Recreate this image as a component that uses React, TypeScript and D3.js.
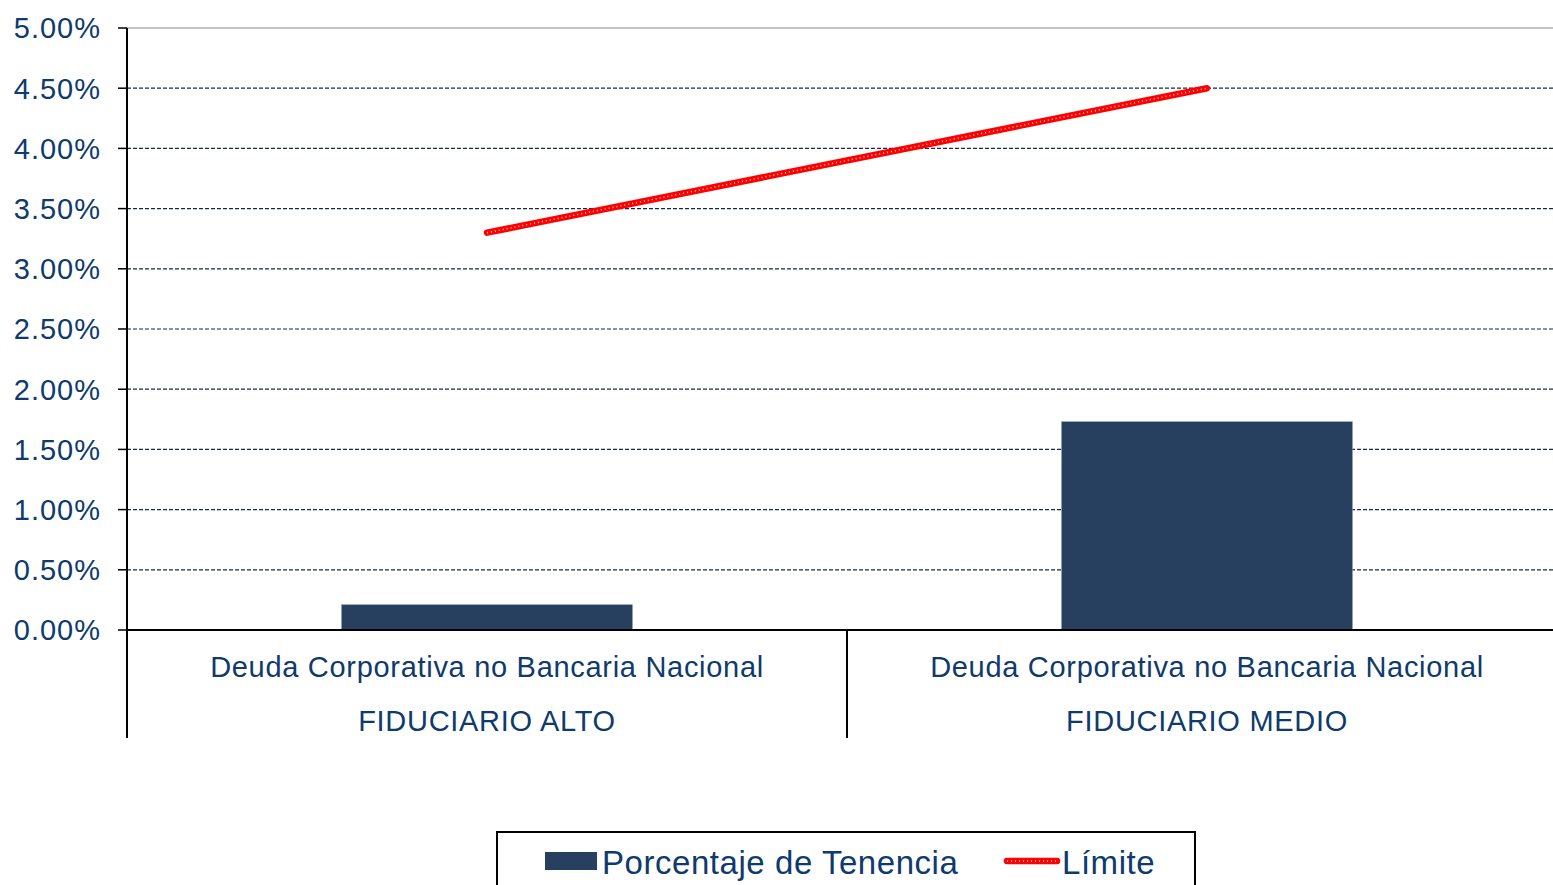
import React from "react";
import * as d3 from "d3";

const categories = ["FIDUCIARIO ALTO", "FIDUCIARIO MEDIO"];
const subLabel = "Deuda Corporativa no Bancaria Nacional";
const tenencia = [0.0021, 0.0173];
const limite = [0.033, 0.045];
const yTicks = [0, 0.005, 0.01, 0.015, 0.02, 0.025, 0.03, 0.035, 0.04, 0.045, 0.05];
const seriesNames = ["Porcentaje de Tenencia", "Límite"];

const W = 1553;
const H = 885;
const left = 127;
const right = 1567;
const top = 28;
const bottom = 630;
const navy = "#0e3a6c";
const barColor = "#27405f";
const font = "'Liberation Sans', Arial, sans-serif";

export default function App() {
  const x = d3.scaleBand<string>().domain(categories).range([left, right]).paddingInner(0).paddingOuter(0);
  const y = d3.scaleLinear().domain([0, 0.05]).range([bottom, top]);
  const barW = x.bandwidth() * 0.404;
  const fmt = d3.format(".2%");
  const line = d3
    .line<number>()
    .x((_, i) => (x(categories[i]) as number) + x.bandwidth() / 2)
    .y((d) => y(d));

  return (
    <svg width={W} height={H} style={{ position: "absolute", left: 0, top: 0, background: "#fff" }}>
      {yTicks.map((t) => (
        <g key={t}>
          {t > 0 && (
            <line
              x1={left}
              x2={W}
              y1={y(t)}
              y2={y(t)}
              stroke={t === 0.05 ? "#888" : "#1b2a40"}
              strokeWidth={1.2}
              strokeDasharray={t === 0.05 ? undefined : "4 2"}
            />
          )}
          <line x1={left - 9} x2={left} y1={y(t)} y2={y(t)} stroke="#000" strokeWidth={1.5} />
          <text
            x={101}
            y={y(t)}
            dy="0.36em"
            textAnchor="end"
            fontFamily={font}
            fontSize={29}
            letterSpacing={1}
            fill={navy}
          >
            {fmt(t)}
          </text>
        </g>
      ))}
      {categories.map((c, i) => (
        <rect
          key={c}
          x={(x(c) as number) + x.bandwidth() / 2 - barW / 2}
          y={y(tenencia[i])}
          width={barW}
          height={bottom - y(tenencia[i])}
          fill={barColor}
          stroke="#8b9bb4"
          strokeWidth={0.6}
        />
      ))}
      <line x1={left} x2={W} y1={bottom} y2={bottom} stroke="#000" strokeWidth={2} />
      <line x1={left} x2={left} y1={top} y2={738} stroke="#000" strokeWidth={2} />
      {categories.map((c, i) =>
        i > 0 ? (
          <line key={c} x1={x(c) as number} x2={x(c) as number} y1={bottom} y2={738} stroke="#000" strokeWidth={2} />
        ) : null
      )}
      {categories.map((c) => (
        <g key={c}>
          <text
            x={(x(c) as number) + x.bandwidth() / 2}
            y={677}
            textAnchor="middle"
            fontFamily={font}
            fontSize={29}
            letterSpacing={0.7}
            fill={navy}
          >
            {subLabel}
          </text>
          <text
            x={(x(c) as number) + x.bandwidth() / 2}
            y={731}
            textAnchor="middle"
            fontFamily={font}
            fontSize={29}
            letterSpacing={0.7}
            fill={navy}
          >
            {c}
          </text>
        </g>
      ))}
      <path d={line(limite) as string} fill="none" stroke="#ff0000" strokeWidth={6.5} strokeLinecap="round" />
      <path
        d={line(limite) as string}
        fill="none"
        stroke="#ffd6d6"
        strokeWidth={1.5}
        strokeDasharray="1 3"
      />
      <g>
        <rect x={497} y={832} width={698} height={70} fill="#fff" stroke="#000" strokeWidth={2} />
        <rect x={545} y={852} width={52} height={18} fill={barColor} />
        <text x={602} y={874} fontFamily={font} fontSize={33} letterSpacing={0.55} fill={navy}>
          {seriesNames[0]}
        </text>
        <line x1={1007} x2={1057} y1={861} y2={861} stroke="#ff0000" strokeWidth={6.5} strokeLinecap="round" />
        <line x1={1007} x2={1057} y1={861} y2={861} stroke="#ffd6d6" strokeWidth={1.5} strokeDasharray="1 3" />
        <text x={1062} y={874} fontFamily={font} fontSize={33} letterSpacing={0.55} fill={navy}>
          {seriesNames[1]}
        </text>
      </g>
    </svg>
  );
}
